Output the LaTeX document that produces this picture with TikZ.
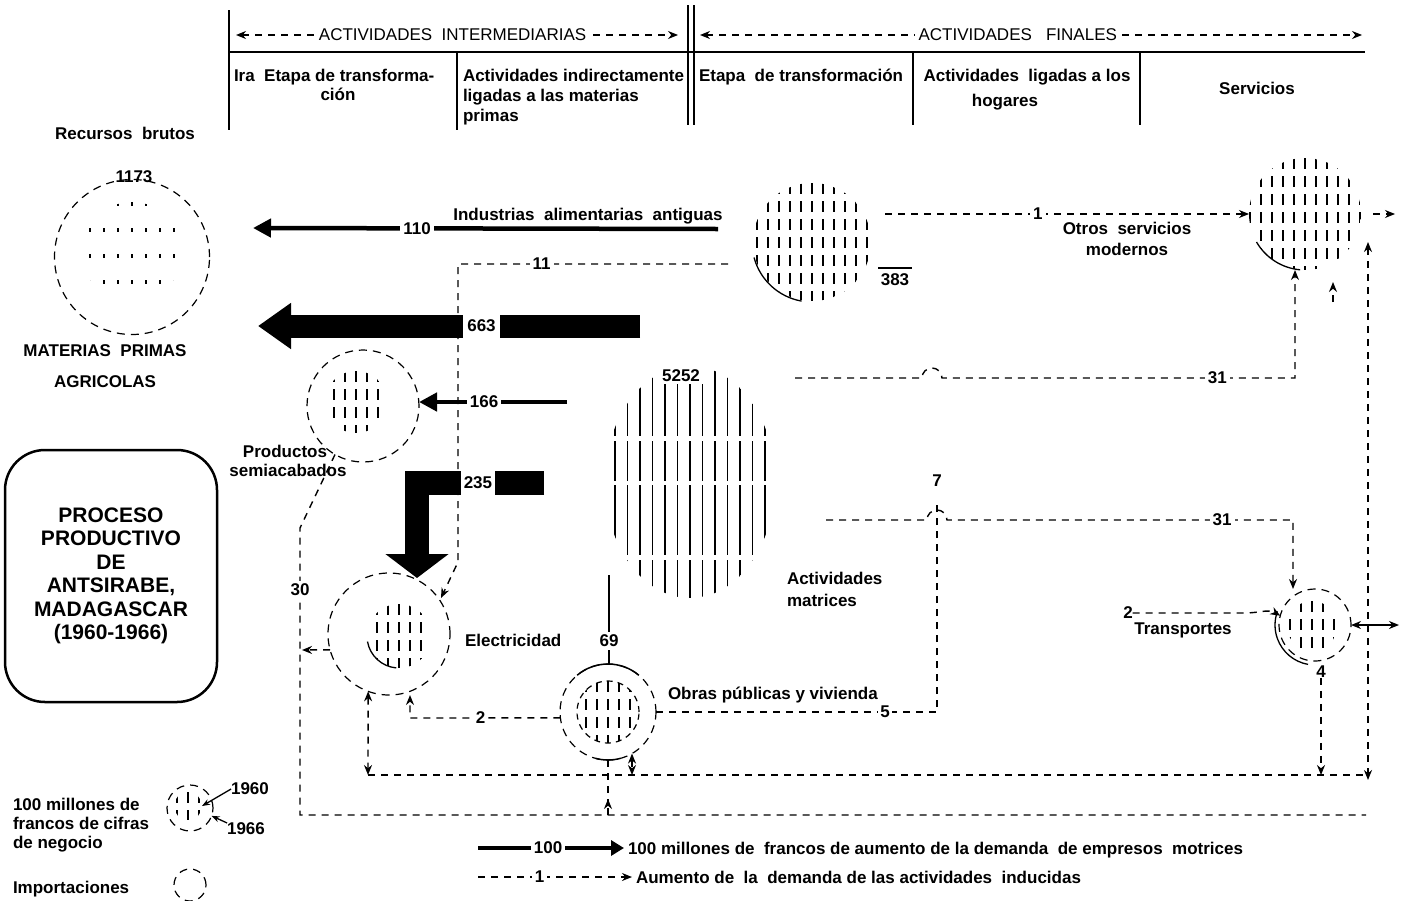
\documentclass[tikz,border=0pt]{standalone}
\usepackage{fontspec}
\setmainfont{Liberation Sans}
\usetikzlibrary{arrows.meta,shapes.geometric,calc}
\begin{document}
\begin{tikzpicture}[x=1pt,y=-1pt,
  every node/.style={inner sep=0pt, outer sep=0pt},
  T/.style={font=\bfseries\fontsize{17}{20}\selectfont},
  H/.style={font=\fontsize{17}{20}\selectfont},
  lab/.style={T, fill=white, inner sep=3pt},
  ring/.style={circle, draw, line width=1.2pt, dash pattern=on 8pt off 6pt},
  hatch/.style={circle, fill=white, path picture={\foreach \k in {-14,...,14}{\draw[line width=1.2pt, dash pattern=on 11pt off 7pt] ([xshift=\k*11pt]path picture bounding box.north) -- ([xshift=\k*11pt]path picture bounding box.south);}}},
  faint/.style={circle, fill=white, path picture={\foreach \k in {-8,...,8}{\draw[line width=1.2pt, dash pattern=on 4pt off 22pt] ([xshift=\k*14pt]path picture bounding box.north) -- ([xshift=\k*14pt]path picture bounding box.south);}}},
  solidhatch/.style={ellipse, fill=white, path picture={\foreach \k in {-8,...,8}{\draw[line width=1.3pt, dash pattern=on 70pt off 5pt on 40pt off 4pt] ([xshift=\k*12.5pt]path picture bounding box.north) -- ([xshift=\k*12.5pt]path picture bounding box.south);}}},
  ind/.style={line width=1.4pt, dash pattern=on 7pt off 6pt},
  indarr/.style={ind, arrows={-Stealth[length=10pt,width=8pt]}},
  indboth/.style={ind, arrows={Stealth[length=10pt,width=8pt]-Stealth[length=10pt,width=8pt]}},
  flow/.style={line width=4.5pt, arrows={-Triangle[length=18pt,width=18pt]}},
  frame/.style={line width=2pt},
]
\fill[white] (0,0) rectangle (1404,900);
\useasboundingbox (0,0) rectangle (1404,900);

% ---------- header ----------
\draw[frame] (229,10) -- (229,130);
\draw[frame] (688,5) -- (688,125);
\draw[frame] (694,5) -- (694,125);
\draw[frame] (229,52) -- (1365,52);
\draw[frame] (457,52) -- (457,130);
\draw[frame] (913,52) -- (913,125);
\draw[frame] (1140,52) -- (1140,125);
\coordinate (hIa) at (236,35); \coordinate (hIb) at (678,35);
\draw[indboth] (hIa) -- node[H, fill=white, inner sep=4pt, pos=0.49]{ACTIVIDADES\ \ INTERMEDIARIAS} (hIb);
\coordinate (hFa) at (700,35); \coordinate (hFb) at (1362,35);
\draw[indboth] (hFa) -- node[H, fill=white, inner sep=4pt, pos=0.48]{ACTIVIDADES\ \ \ FINALES} (hFb);
\node[T, anchor=base west] at (234,81) {Ira\ \ Etapa de transforma-};
\node[T, anchor=base] at (338,100) {ción};
\node[T, anchor=base west] at (463,81) {Actividades indirectamente};
\node[T, anchor=base west] at (463,101) {ligadas a las materias};
\node[T, anchor=base west] at (463,121) {primas};
\node[T, anchor=base west] at (699,81) {Etapa\ \ de transformación};
\node[T, anchor=base] at (1027,81) {Actividades\ \ ligadas a los};
\node[T, anchor=base] at (1005,106) {hogares};
\node[T, anchor=base] at (1257,94) {Servicios};

% ---------- nodes ----------
\node[T, anchor=base] at (125,139) {Recursos\ \ brutos};
\node[ring, minimum size=155pt] (raw) at (132,257) {};
\node[faint, minimum size=100pt] (rawh) at (132,252) {};
\node[T, anchor=base] at (134,182) {1173};
\node[T, anchor=base] at (105,356) {MATERIAS\ \ PRIMAS};
\node[T, anchor=base] at (105,387) {AGRICOLAS};

\node[hatch, minimum size=118pt] (ind) at (812,242) {};
\draw[line width=1.3pt] ($(ind.center)+(100:60)$) arc[start angle=100,end angle=165,radius=60];
\node[T, anchor=base] at (588,220) {Industrias\ \ alimentarias\ \ antiguas};
\node[T, anchor=base] (n383) at (895,285) {383};
\draw[line width=1.3pt] ($(n383.north)+(-17,-5)$) -- ++(34,0);

\node[hatch, minimum size=112pt] (otros) at (1305,214) {};
\draw[line width=1.3pt] ($(otros.center)+(95:56)$) arc[start angle=95,end angle=150,radius=56];
\node[T, anchor=base] at (1127,234) {Otros\ \ servicios};
\node[T, anchor=base] at (1127,255) {modernos};

\node[ring, minimum size=112pt] (semi) at (363,406) {};
\node[hatch, minimum size=62pt] (semih) at (356,402) {};
\node[T, anchor=base] at (285,457) {Productos};
\node[T, anchor=base] at (288,476) {semiacabados};

\node[solidhatch, minimum width=170pt, minimum height=232pt] (matr) at (690,482) {};
\node[lab, anchor=base] at (681,381) {5252};
\node[T, anchor=base west] at (787,584) {Actividades};
\node[T, anchor=base west] at (787,606) {matrices};

\node[ring, minimum size=122pt] (elec) at (389,634) {};
\node[hatch, minimum size=64pt] (elech) at (399,636) {};
\draw[line width=1.3pt] ($(elech.center)+(95:32)$) arc[start angle=95,end angle=170,radius=32];
\node[T, anchor=base west] at (465,646) {Electricidad};

\node[ring, minimum size=96pt] (obras) at (608,712) {};
\node[hatch, draw, dash pattern=on 6pt off 5pt, line width=1.2pt, minimum size=62pt] (obrash) at (608,712) {};
\draw[line width=1.5pt] ($(obras.center)+(230:48)$) arc[start angle=230,end angle=310,radius=48];
\draw[line width=1.5pt] ($(obras.center)+(75:48)$) arc[start angle=75,end angle=105,radius=48];
\node[T, anchor=base west] at (668,699) {Obras públicas y vivienda};

\node[ring, minimum size=72pt] (trans) at (1315,625) {};
\node[hatch, minimum size=50pt] (transh) at (1312,626) {};
\draw[line width=1.3pt] ($(trans.center)+(100:40)$) arc[start angle=100,end angle=200,radius=40];
\node[T, anchor=base] at (1183,634) {Transportes};
\node[T] (n4) at (1321,672) {4};
\node[T] (n2t) at (1128,613) {2};

\node[draw, line width=2.5pt, rounded corners=40pt, minimum width=212pt, minimum height=252pt,
      font=\bfseries\fontsize{21}{23.5}\selectfont, align=center] (title) at (111,576)
      {PROCESO\\PRODUCTIVO\\DE\\ANTSIRABE,\\MADAGASCAR\\(1960-1966)};

% ---------- motor flows ----------
\coordinate (iaaE) at (718,229); \coordinate (rawE) at (253,228);
\draw[flow] (iaaE) -- node[lab, pos=0.647]{110} (rawE);

\coordinate (s663) at (640,326); \coordinate (e663) at (258,326);
\draw[line width=23pt, arrows={-Triangle[length=33pt,width=44pt]}] (s663) -- node[lab, pos=0.415, inner sep=4pt, minimum height=26pt]{663} (e663);

\coordinate (s166) at (567,402);
\draw[flow] (s166) -- node[lab, pos=0.56]{166} (semi.east |- s166);

\coordinate (s235) at (544,483); \coordinate (e235) at (417,578);
\draw[line width=24pt, line join=miter, arrows={-Triangle[length=24pt,width=62pt]}] (s235) -- node[lab, pos=0.52, minimum height=28pt]{235} (e235 |- s235) -- (e235);

\coordinate (s69) at (609,575);
\draw[line width=1.6pt] (s69) -- node[lab, pos=0.74]{69} (obras.north -| s69);

% ---------- induced flows ----------
\coordinate (i11) at (728,264); \coordinate (e11) at (441,598);
\draw[indarr] (i11) -- node[lab, pos=0.69]{11} (458,264) -- (458,562) -- (e11);

\coordinate (i1) at (885,214);
\draw[indarr] (i1) -- node[lab, pos=0.42]{1} (otros.west);
\draw[indarr] ($(otros.east)+(12,0)$) -- ++(22,0);

\coordinate (u31a) at (795,378); \coordinate (u31b) at (1295,378);
\draw[indarr] (u31a) -- (922,378) arc[start angle=180,end angle=360,radius=10] -- node[lab,pos=0.78]{31} (u31b) -- (otros.south -| u31b);
\draw[indarr] (otros.300 |- 0,302) -- (otros.300 |- 0,282);

\coordinate (l31a) at (826,520); \coordinate (l31b) at (1293,520);
\draw[indarr] (l31a) -- (927,520) arc[start angle=180,end angle=360,radius=10] -- node[lab,pos=0.795]{31} (l31b) -- (trans.north -| l31b);

\coordinate (c5) at (937,712); \coordinate (c7) at (937,500);
\draw[ind] (obras.east) -- node[lab,pos=0.815, inner sep=2pt]{5} (c5) -- (c7);
\node[T] at (937,481) {7};

\coordinate (c2) at (410,718); \coordinate (e2) at (410,695);
\draw[indarr] (obras.187) -- node[lab, pos=0.53]{2} (c2) -- (e2);

\coordinate (c30a) at (300,528); \coordinate (c30b) at (300,815); \coordinate (c30c) at (1366,815);
\draw[ind] (semi.240) -- (c30a) -- node[lab, pos=0.216]{30} (c30b) -- (c30c);
\coordinate (a30) at (302,650);
\draw[indarr] (elec.195) -- (a30);

\coordinate (b1) at (368,775); \coordinate (b2) at (1368,775);
\draw[indboth] (elec.250) -- (b1);
\draw[ind] (b1) -- (b2);
\draw[indboth] (obras.300) -- (obras.300 |- b1);
\draw[ind] (obras.south) -- (obras.south |- c30c);
\draw[indarr] (obras.south |- c30c) -- ++(0,-16);
\draw[indarr] (n4.south) -- (n4.south |- b1);
\coordinate (r1) at (1368,242);
\draw[indboth] (r1) -- (1368,780);

\draw[indarr] (n2t.east) -- (1245,613) to[out=0,in=150] (trans.165);
\draw[line width=1.4pt, arrows={Stealth[length=10pt,width=8pt]-Stealth[length=10pt,width=8pt]}] (trans.east) -- ++(48,0);

% ---------- legend ----------
\node[ring, minimum size=46pt] (leg) at (190,808) {};
\node[hatch, minimum size=28pt] (legh) at (188,806) {};
\node[T] (y60) at (250,789) {1960};
\node[T] (y66) at (246,829) {1966};
\draw[line width=1.3pt, arrows={-Stealth[length=8pt,width=6pt]}] (y60.west) -- (legh.east);
\draw[line width=1.3pt, arrows={-Stealth[length=8pt,width=6pt]}] (y66.north west) -- (leg.340);
\node[T, anchor=base west] at (13,810) {100 millones de};
\node[T, anchor=base west] at (13,829) {francos de cifras};
\node[T, anchor=base west] at (13,848) {de negocio};
\node[ring, minimum size=32pt] (imp) at (190,885) {};
\node[T, anchor=base west] at (13,893) {Importaciones};

\coordinate (la) at (478,848); \coordinate (lb) at (624,848);
\draw[line width=4pt, arrows={-Triangle[length=13pt,width=15pt]}] (la) -- node[lab, pos=0.48]{100} (lb);
\node[T, anchor=base west] at (628,854) {100 millones de\ \ francos de aumento de la demanda\ \ de empresos\ \ motrices};
\coordinate (lc) at (478,877); \coordinate (ld) at (632,877);
\draw[indarr] (lc) -- node[lab,pos=0.4]{1} (ld);
\node[T, anchor=base west] at (636,883) {Aumento de\ \ la\ \ demanda de las actividades\ \ inducidas};
\end{tikzpicture}
\end{document}
